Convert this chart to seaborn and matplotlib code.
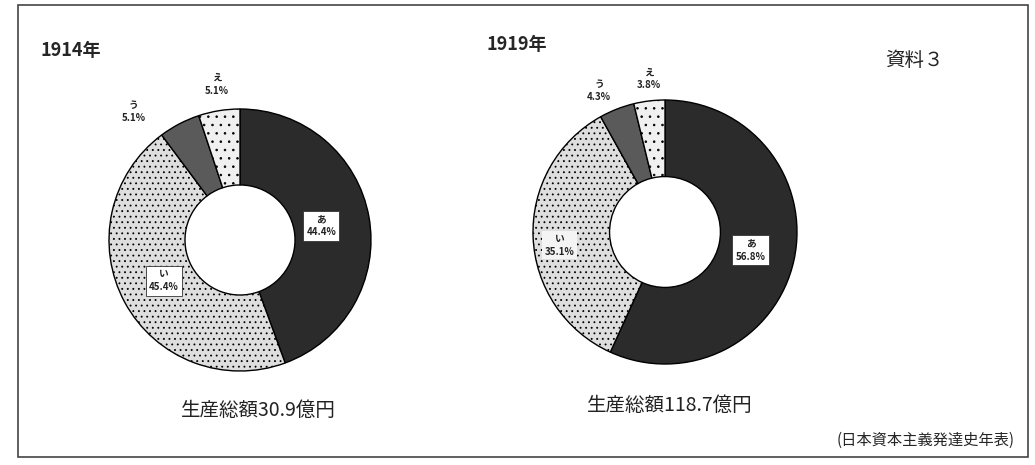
import matplotlib
matplotlib.use('Agg')
import matplotlib.pyplot as plt
import seaborn as sns

sns.set_theme(style='white')
plt.rcParams['font.family'] = ['Noto Sans CJK JP', 'DejaVu Sans']
plt.rcParams['hatch.color'] = '#8a8a8a'
plt.rcParams['hatch.linewidth'] = 0.6

# ── data ──
categories = ['あ', 'い', 'う', 'え']
share_1914 = [44.4, 45.4, 5.1, 5.1]
share_1919 = [56.8, 35.1, 4.3, 3.8]
total_1914 = '生産総額30.9億円'
total_1919 = '生産総額118.7億円'

colors = ['#2b2b2b', '#dedede', '#5a5a5a', '#f0f0f0']
hatches = ['', '...', '', '..']

W, H = 1035, 465
fig = plt.figure(figsize=(W / 100, H / 100), dpi=100)
fig.patch.set_facecolor('white')

# outer frame
frame = plt.Rectangle((18 / W, 8 / H), 1010 / W, 452 / H, transform=fig.transFigure,
                      fill=False, edgecolor='#444444', linewidth=1.2)
fig.add_artist(frame)


def donut(cx, cy, r, vals, label_pos, total, total_xy):
    ax = fig.add_axes([(cx - r) / W, (H - cy - r) / H, 2 * r / W, 2 * r / H])
    wedges, _ = ax.pie(vals, colors=colors, startangle=90, counterclock=False,
                       radius=1, wedgeprops=dict(width=0.58, edgecolor='black', linewidth=1.0))
    for w, h in zip(wedges, hatches):
        if h:
            w.set_hatch(h)
    ax.set_xlim(-1, 1)
    ax.set_ylim(-1, 1)
    ax.set_aspect('equal')
    ax.axis('off')
    for i, (cat, v) in enumerate(zip(categories, vals)):
        x, y, box = label_pos[i]
        bb = None
        if box == 'edge':
            bb = dict(boxstyle='square,pad=0.35', fc='white', ec='#333333', lw=0.6)
        elif box == 'plain':
            bb = dict(boxstyle='square,pad=0.25', fc='#f4f4f4', ec='none')
        ax.text(x, y, f'{cat}\n{v}%', ha='center', va='center', fontsize=7, fontweight='bold',
                linespacing=1.4, bbox=bb, clip_on=False, color='#222222')
    fig.text(total_xy[0] / W, 1 - total_xy[1] / H, total, ha='center', va='center',
             fontsize=14, color='#222222')


donut(240, 240, 131, share_1914,
      [(0.62, 0.11, 'edge'), (-0.58, -0.31, 'edge'), (-0.81, 0.98, None), (-0.18, 1.19, None)],
      total_1914, (258, 410))
donut(665, 232, 132, share_1919,
      [(0.65, -0.14, 'edge'), (-0.8, -0.1, 'plain'), (-0.5, 1.07, None), (-0.12, 1.16, None)],
      total_1919, (670, 405))

fig.text(40 / W, 1 - 50 / H, '1914年', ha='left', va='center', fontsize=13, fontweight='bold')
fig.text(487 / W, 1 - 45 / H, '1919年', ha='left', va='center', fontsize=13, fontweight='bold')
fig.text(885 / W, 1 - 60 / H, '資料３', ha='left', va='center', fontsize=14)
fig.text(1015 / W, 1 - 440 / H, '(日本資本主義発達史年表)', ha='right', va='center', fontsize=11)

plt.savefig('out.png', dpi=100)
plt.close()
